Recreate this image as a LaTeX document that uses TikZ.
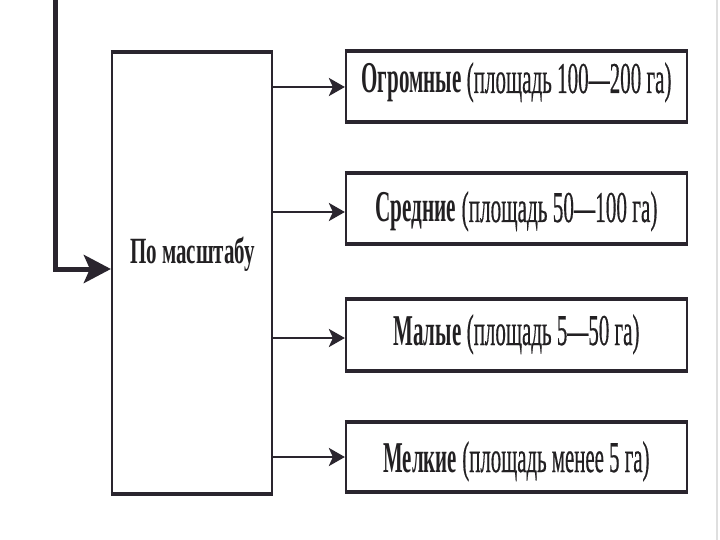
\documentclass[tikz,border=0pt]{standalone}
\usepackage{fontspec}
\setmainfont{Liberation Serif}
\newfontfamily\pfont[FakeBold=0.6]{Liberation Serif}
\usepackage{graphicx}
\usetikzlibrary{arrows.meta}
\definecolor{ink}{HTML}{2A252E}
\definecolor{txt}{HTML}{222022}
\newcommand\fitw[2]{\resizebox{#1}{\height}{#2}}
\newcommand\ptext[1]{{\pfont #1}}
\tikzset{
  box/.style={draw=ink, line width=2.2pt, rectangle, inner sep=0pt, text=txt,
              font=\fontsize{44}{44}\selectfont},
  rbox/.style={box, minimum width=341pt},
  toff/.style 2 args={text height=#1, text depth=#2},
  thickedge/.style={draw=ink, line width=4pt},
  feed/.style={draw=ink, line width=5pt, -{Stealth[length=27pt,width=28pt,inset=6pt]}},
  arr/.style={draw=ink, line width=2.8pt, -{Stealth[length=16pt,width=18pt,inset=4pt]}}
}
\begin{document}
\begin{tikzpicture}[x=1pt,y=-1pt]
\useasboundingbox (0,0) rectangle (720,540);
\fill[white] (0,0) rectangle (720,540);
\draw[gray!25, line width=1.2pt] (717,0) -- (717,540);

% main box
\node[box, minimum width=160pt, minimum height=440pt] (m) at (192,273) {};
\node[anchor=base, text=txt, font=\fontsize{37}{37}\selectfont, inner sep=0pt] (mt) at (192.5,263)
  {\fitw{125pt}{\textbf{По масштабу}}};

% right boxes
\node[rbox, minimum height=69pt, toff={21.5pt}{8.5pt}] (b1) at (516.5,86.5)
  {\fitw{310pt}{\textbf{Огромные} \ptext{(площадь 100—200 га)}}};
\node[rbox, minimum height=69pt, toff={28.5pt}{1.5pt}] (b2) at (516.5,208.5)
  {\fitw{282pt}{\textbf{Средние} \ptext{(площадь 50—100 га)}}};
\node[rbox, minimum height=70pt, toff={25pt}{5pt}] (b3) at (516.5,335)
  {\fitw{246pt}{\textbf{Малые} \ptext{(площадь 5—50 га)}}};
\node[rbox, minimum height=68pt, toff={30pt}{0pt}] (b4) at (516.5,457)
  {\fitw{266pt}{\textbf{Мелкие} \ptext{(площадь менее 5 га)}}};

% thicker top and bottom edges
\foreach \n in {m,b1,b2,b3,b4}{
  \draw[thickedge] (\n.north west) -- (\n.north east);
  \draw[thickedge] (\n.south west) -- (\n.south east);
}

% feed arrow from above
\coordinate (top) at (55,-5);
\draw[feed] (top) |- ([yshift=4pt]m.west);

% arrows to categories
\draw[arr] ([yshift=-0.5pt]b1.west -| m.east) -- ([yshift=-0.5pt]b1.west);
\draw[arr] ([yshift=-3.5pt]b2.west -| m.east) -- ([yshift=-3.5pt]b2.west);
\draw[arr] ([yshift=-3pt]b3.west -| m.east) -- ([yshift=-3pt]b3.west);
\draw[arr] (b4.west -| m.east) -- (b4.west);
\end{tikzpicture}
\end{document}
